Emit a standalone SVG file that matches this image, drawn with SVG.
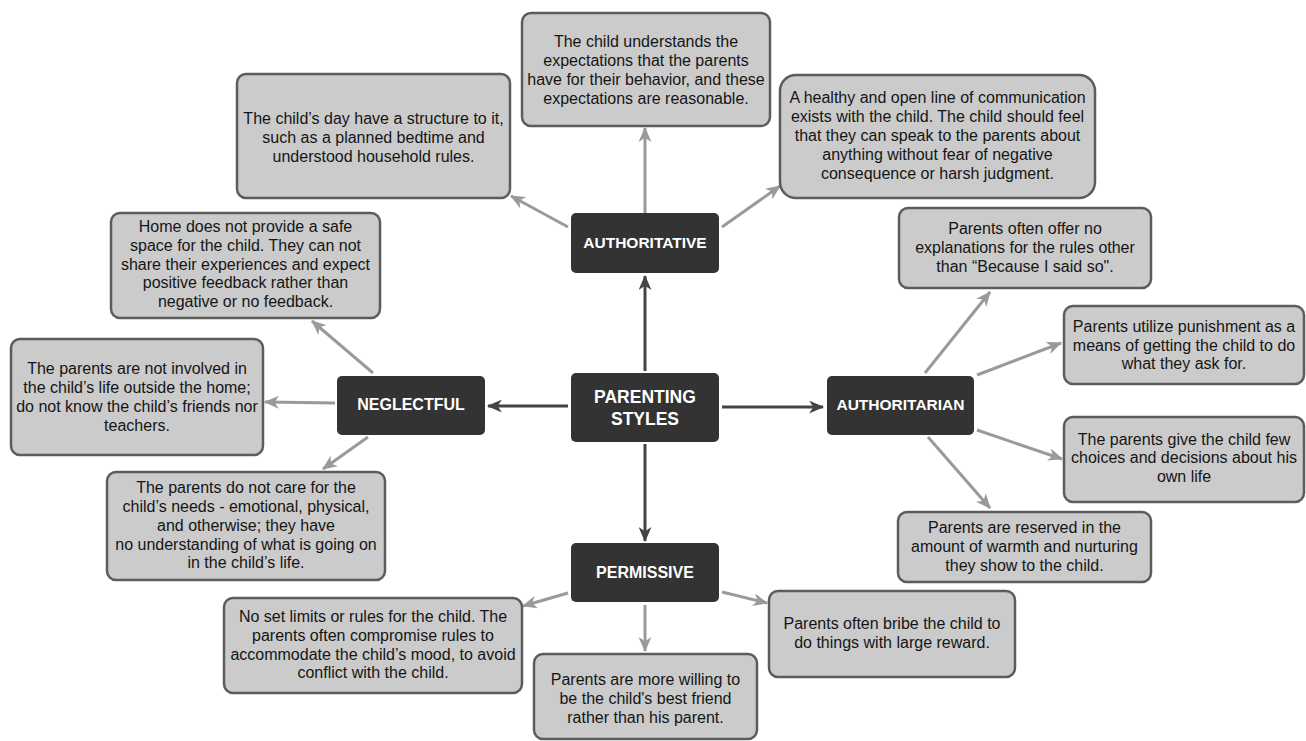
<svg xmlns="http://www.w3.org/2000/svg" width="1306" height="741" viewBox="0 0 1306 741">
<defs>
<style>
.box{fill:#cbcbcb;stroke:#5c5c5c;stroke-width:2.5}
.dark{fill:#333333}
.t{font-family:"Liberation Sans",Arial,sans-serif;font-size:16px;fill:#151515;text-anchor:middle}
.h{font-family:"Liberation Sans",Arial,sans-serif;font-size:15.5px;font-weight:bold;fill:#ffffff;text-anchor:middle}
.hl{font-size:17.5px}
.ga{stroke:#9a9a9a;stroke-width:3;fill:none;marker-end:url(#ah-g)}
.da{stroke:#444444;stroke-width:3;fill:none;marker-end:url(#ah-d)}
</style>
<marker id="ah-g" viewBox="0 0 14 12" markerWidth="15" markerHeight="13" refX="13" refY="6" orient="auto" markerUnits="userSpaceOnUse">
<path d="M0,0 L14,6 L0,12 L4,6 z" fill="#9a9a9a"/>
</marker>
<marker id="ah-d" viewBox="0 0 14 12" markerWidth="15" markerHeight="13" refX="13" refY="6" orient="auto" markerUnits="userSpaceOnUse">
<path d="M0,0 L14,6 L0,12 L4,6 z" fill="#444444"/>
</marker>
</defs>
<rect width="1306" height="741" fill="#ffffff"/>

<g id="connectors">
<line class="da" x1="645" y1="371" x2="645" y2="276"/>
<line class="da" x1="722" y1="407" x2="823" y2="407"/>
<line class="da" x1="568" y1="406" x2="488" y2="406"/>
<line class="da" x1="645" y1="444" x2="645" y2="541"/>
<line class="ga" x1="645" y1="213" x2="645" y2="128"/>
<line class="ga" x1="568" y1="227" x2="511" y2="196"/>
<line class="ga" x1="722" y1="227" x2="780" y2="186"/>
<line class="ga" x1="373" y1="373" x2="312" y2="321"/>
<line class="ga" x1="335" y1="403" x2="265" y2="402"/>
<line class="ga" x1="368" y1="437" x2="323" y2="469"/>
<line class="ga" x1="925" y1="373" x2="990" y2="292"/>
<line class="ga" x1="977" y1="375" x2="1061" y2="343"/>
<line class="ga" x1="977" y1="430" x2="1062" y2="459"/>
<line class="ga" x1="928" y1="437" x2="990" y2="508"/>
<line class="ga" x1="568" y1="593" x2="523" y2="606"/>
<line class="ga" x1="645" y1="605" x2="645" y2="651"/>
<line class="ga" x1="722" y1="592" x2="767" y2="603"/>
</g>

<g id="parenting-styles">
<rect class="dark" x="571" y="373" width="148" height="69" rx="5"/>
<text class="h hl" x="645" y="403">PARENTING</text>
<text class="h hl" x="645" y="425">STYLES</text>
</g>
<g id="authoritative">
<rect class="dark" x="571" y="213" width="148" height="60" rx="5"/>
<text class="h" x="645" y="248">AUTHORITATIVE</text>
</g>
<g id="neglectful">
<rect class="dark" x="337" y="376" width="148" height="59" rx="5"/>
<text class="h" x="411" y="410" style="font-size:16px">NEGLECTFUL</text>
</g>
<g id="authoritarian">
<rect class="dark" x="827" y="376" width="147" height="59" rx="5"/>
<text class="h" x="900.5" y="410">AUTHORITARIAN</text>
</g>
<g id="permissive">
<rect class="dark" x="571" y="543" width="148" height="59" rx="5"/>
<text class="h" x="645" y="578" style="font-size:16px">PERMISSIVE</text>
</g>

<g id="expectations">
<rect class="box" x="522" y="13" width="248" height="113" rx="9"/>
<text class="t" x="646" y="47">The child understands the</text>
<text class="t" x="646" y="66">expectations that the parents</text>
<text class="t" x="646" y="85">have for their behavior, and these</text>
<text class="t" x="646" y="104">expectations are reasonable.</text>
</g>
<g id="structure">
<rect class="box" x="237" y="74" width="273" height="124" rx="9"/>
<text class="t" x="373.5" y="124">The child’s day have a structure to it,</text>
<text class="t" x="373.5" y="143">such as a planned bedtime and</text>
<text class="t" x="373.5" y="162">understood household rules.</text>
</g>
<g id="communication">
<rect class="box" x="780" y="75" width="315" height="123" rx="16"/>
<text class="t" x="937.5" y="103">A healthy and open line of communication</text>
<text class="t" x="937.5" y="122">exists with the child. The child should feel</text>
<text class="t" x="937.5" y="141">that they can speak to the parents about</text>
<text class="t" x="937.5" y="160">anything without fear of negative</text>
<text class="t" x="937.5" y="179">consequence or harsh judgment.</text>
</g>
<g id="safe-space">
<rect class="box" x="111" y="213" width="269" height="105" rx="9"/>
<text class="t" x="245.5" y="232">Home does not provide a safe</text>
<text class="t" x="245.5" y="251">space for the child. They can not</text>
<text class="t" x="245.5" y="270">share their experiences and expect</text>
<text class="t" x="245.5" y="288">positive feedback rather than</text>
<text class="t" x="245.5" y="307">negative or no feedback.</text>
</g>
<g id="not-involved">
<rect class="box" x="11" y="339" width="252" height="116" rx="9"/>
<text class="t" x="137" y="374">The parents are not involved in</text>
<text class="t" x="137" y="393">the child’s life outside the home;</text>
<text class="t" x="137" y="412">do not know the child’s friends nor</text>
<text class="t" x="137" y="431">teachers.</text>
</g>
<g id="do-not-care">
<rect class="box" x="107" y="472" width="278" height="108" rx="9"/>
<text class="t" x="246" y="493">The parents do not care for the</text>
<text class="t" x="246" y="512">child’s needs - emotional, physical,</text>
<text class="t" x="246" y="531">and otherwise; they have</text>
<text class="t" x="246" y="550">no understanding of what is going on</text>
<text class="t" x="246" y="568">in the child’s life.</text>
</g>
<g id="no-limits">
<rect class="box" x="224" y="598" width="298" height="95" rx="9"/>
<text class="t" x="373" y="622">No set limits or rules for the child. The</text>
<text class="t" x="373" y="641">parents often compromise rules to</text>
<text class="t" x="373" y="660">accommodate the child’s mood, to avoid</text>
<text class="t" x="373" y="678">conflict with the child.</text>
</g>
<g id="no-explanations">
<rect class="box" x="899" y="208" width="252" height="80" rx="9"/>
<text class="t" x="1025" y="234">Parents often offer no</text>
<text class="t" x="1025" y="253">explanations for the rules other</text>
<text class="t" x="1025" y="272">than “Because I said so".</text>
</g>
<g id="punishment">
<rect class="box" x="1064" y="306" width="240" height="78" rx="9"/>
<text class="t" x="1184" y="332">Parents utilize punishment as a</text>
<text class="t" x="1184" y="351">means of getting the child to do</text>
<text class="t" x="1184" y="369">what they ask for.</text>
</g>
<g id="few-choices">
<rect class="box" x="1064" y="417" width="240" height="85" rx="9"/>
<text class="t" x="1184" y="445">The parents give the child few</text>
<text class="t" x="1184" y="463">choices and decisions about his</text>
<text class="t" x="1184" y="482">own life</text>
</g>
<g id="reserved">
<rect class="box" x="898" y="512" width="253" height="70" rx="9"/>
<text class="t" x="1024.5" y="533">Parents are reserved in the</text>
<text class="t" x="1024.5" y="552">amount of warmth and nurturing</text>
<text class="t" x="1024.5" y="571">they show to the child.</text>
</g>
<g id="best-friend">
<rect class="box" x="534" y="654" width="223" height="85" rx="9"/>
<text class="t" x="645.5" y="685">Parents are more willing to</text>
<text class="t" x="645.5" y="704">be the child's best friend</text>
<text class="t" x="645.5" y="723">rather than his parent.</text>
</g>
<g id="bribe">
<rect class="box" x="769" y="591" width="246" height="86" rx="9"/>
<text class="t" x="892" y="629">Parents often bribe the child to</text>
<text class="t" x="892" y="648">do things with large reward.</text>
</g>
</svg>
